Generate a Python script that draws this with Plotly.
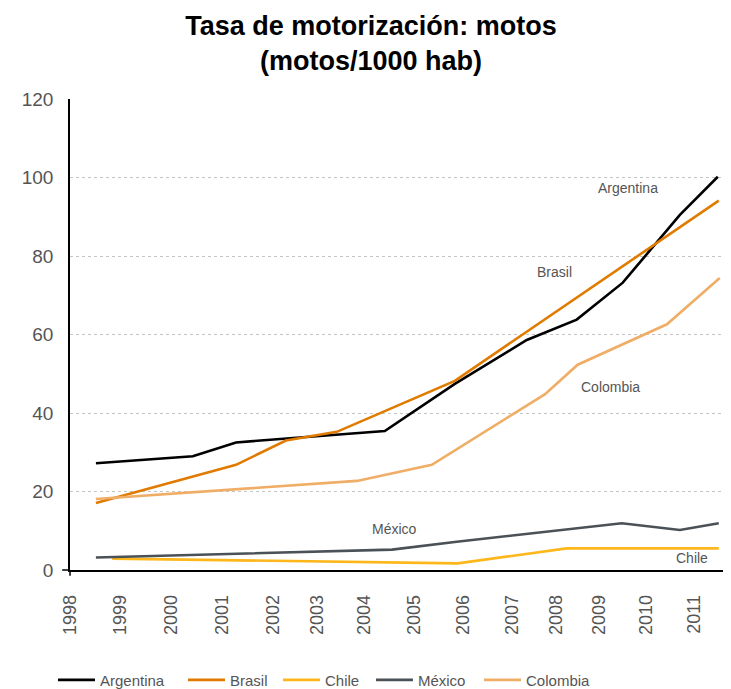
import plotly.graph_objects as go

# ---- data (x in decimal years, y in motos / 1000 hab) ----
arg_x = [1998.54, 2000.56, 2001.46, 2004.56, 2006.02, 2007.52, 2008.56, 2009.52, 2010.71, 2011.50]
arg_y = [27.2, 29.0, 32.5, 35.4, 47.4, 58.6, 63.8, 73.2, 90.5, 100.2]

bra_x = [1998.54, 2001.46, 2002.50, 2003.56, 2006.02, 2011.52]
bra_y = [17.1, 26.8, 33.0, 35.2, 48.2, 94.1]

chi_x = [1998.88, 2006.08, 2008.35, 2011.52]
chi_y = [2.9, 1.7, 5.5, 5.5]

mex_x = [1998.54, 2004.71, 2006.06, 2008.35, 2009.50, 2010.71, 2011.52]
mex_y = [3.2, 5.2, 7.2, 10.4, 11.9, 10.2, 11.9]

col_x = [1998.54, 2003.98, 2005.54, 2007.90, 2008.58, 2010.44, 2011.54]
col_y = [18.1, 22.7, 26.8, 44.8, 52.3, 62.6, 74.4]

tick_pos = [1998.0, 1999.04, 2000.10, 2001.17, 2002.23, 2003.15, 2004.13,
            2005.17, 2006.19, 2007.21, 2008.13, 2009.02, 2010.0, 2011.0]
tick_text = ["1998", "1999", "2000", "2001", "2002", "2003", "2004",
             "2005", "2006", "2007", "2008", "2009", "2010", "2011"]

series = [
    ("Argentina", arg_x, arg_y, "#000000"),
    ("Brasil", bra_x, bra_y, "#E07B00"),
    ("Chile", chi_x, chi_y, "#FDB71A"),
    ("México", mex_x, mex_y, "#4A5157"),
    ("Colombia", col_x, col_y, "#F0AD66"),
]

FONT = "Liberation Sans, Arial, sans-serif"
GRAY = "#555555"

legend_ids = ["legend", "legend2", "legend3", "legend4", "legend5"]
legend_x = [0.0622, 0.242, 0.3734, 0.502, 0.6515]

fig = go.Figure()
for (name, xs, ys, color), lid in zip(series, legend_ids):
    fig.add_trace(go.Scatter(x=xs, y=ys, mode="lines", name=name, legend=lid,
                             line=dict(color=color, width=2.6)))

labels = [("Argentina", 2009.63, 97.3), ("Brasil", 2008.10, 75.9),
          ("Colombia", 2009.27, 46.6), ("México", 2004.77, 10.4),
          ("Chile", 2010.96, 3.1)]
for txt, lx, ly in labels:
    fig.add_annotation(x=lx, y=ly, text=txt, showarrow=False,
                       font=dict(family=FONT, size=14, color=GRAY))

# left extension of the zero line and small tick at origin
fig.add_shape(type="line", xref="paper", yref="paper", x0=-0.012, x1=0, y0=0, y1=0,
              line=dict(color="black", width=1.5))
fig.add_shape(type="line", xref="paper", yref="paper", x0=0, x1=0, y0=0, y1=-0.012,
              line=dict(color="black", width=1.5))

legend_layout = {}
for lid, lx in zip(legend_ids, legend_x):
    legend_layout[lid] = dict(orientation="h", x=lx, xanchor="left", y=0.013,
                              yanchor="middle", xref="container", yref="container",
                              font=dict(family=FONT, size=15, color=GRAY),
                              itemwidth=37, bgcolor="rgba(0,0,0,0)")

fig.update_layout(
    width=723, height=681,
    margin=dict(l=62, r=6, t=91, b=119),
    paper_bgcolor="white", plot_bgcolor="white",
    title=dict(text="<b>Tasa de motorización: motos<br>(motos/1000 hab)</b>",
               x=0.502, xanchor="center", y=0.961, yanchor="middle",
               yref="container",
               font=dict(family=FONT, size=27, color="black")),
    font=dict(family=FONT, color=GRAY),
    showlegend=True,
    xaxis=dict(range=[1998.0, 2011.65], tickmode="array", tickvals=tick_pos,
               ticktext=tick_text, tickangle=-90, showgrid=False, zeroline=False,
               showline=True, linecolor="black", linewidth=1.5, automargin=False,
               ticks="", ticklabelstandoff=16,
               tickfont=dict(family=FONT, size=18, color=GRAY)),
    yaxis=dict(range=[0, 120], tickmode="array", tickvals=[0, 20, 40, 60, 80, 100, 120],
               showgrid=True, gridcolor="#c4c4c4", griddash="dot", gridwidth=1,
               zeroline=False, showline=True, linecolor="black", linewidth=1.5,
               automargin=False, ticks="", ticklabelstandoff=11,
               tickfont=dict(family=FONT, size=19, color=GRAY)),
    **legend_layout,
)

fig.write_html("out.html")
